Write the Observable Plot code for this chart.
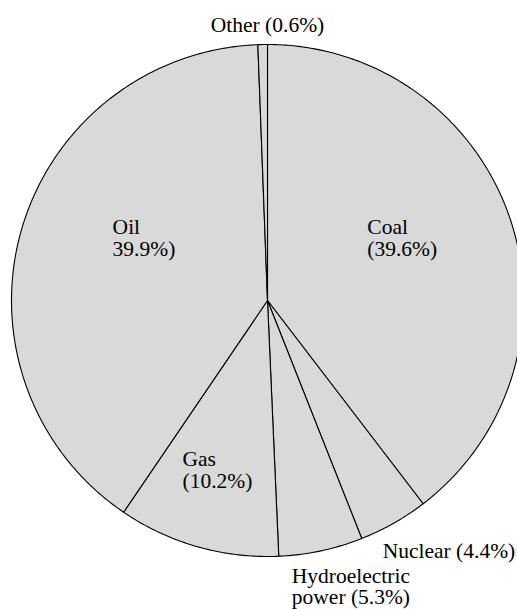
<!DOCTYPE html>
<html>
<head>
<meta charset="utf-8">
<script src="https://cdn.jsdelivr.net/npm/d3@7"></script>
<script src="https://cdn.jsdelivr.net/npm/@observablehq/plot@0.6"></script>
<style>
  html, body { margin: 0; padding: 0; background: #fff; }
</style>
</head>
<body>
<div id="chart"></div>
<script>
// Data (clockwise from 12 o'clock)
const categories = ["Coal", "Nuclear", "Hydroelectric power", "Gas", "Oil", "Other"];
const shares = [39.6, 4.4, 5.3, 10.2, 39.9, 0.6];
const labels = ["Coal\n(39.6%)", "Nuclear (4.4%)", "Hydroelectric\npower (5.3%)", "Gas\n(10.2%)", "Oil\n39.9%)", "Other (0.6%)"];

// Layout (label anchors in chart units; radius = 1)
const labelLayout = {
  "Coal": {x: 0.39, y: 0.318, anchor: "start"},
  "Nuclear": {x: 0.45, y: -0.947, anchor: "start"},
  "Hydroelectric power": {x: 0.095, y: -1.042, anchor: "start"},
  "Gas": {x: -0.332, y: -0.588, anchor: "start"},
  "Oil": {x: -0.605, y: 0.318, anchor: "start"},
  "Other": {x: 0.0, y: 1.107, anchor: "middle"}
};

const table = categories.map((c, i) => ({cat: c, share: shares[i], label: labels[i]}));
const arcs = d3.pie().sort(null).value(d => d.share)(table);

// Build slice outlines from the pie angles (angle 0 = up, clockwise)
const pts = [];
arcs.forEach(a => {
  const cat = a.data.cat;
  pts.push({cat, x: 0, y: 0});
  const n = Math.max(2, Math.ceil((a.endAngle - a.startAngle) / 0.01));
  for (let k = 0; k <= n; k++) {
    const t = a.startAngle + (a.endAngle - a.startAngle) * k / n;
    pts.push({cat, x: Math.sin(t), y: Math.cos(t)});
  }
  pts.push({cat, x: 0, y: 0});
});

const labelRows = table.map(d => ({...d, ...labelLayout[d.cat]}));

const serif = "'Liberation Serif', 'Times New Roman', Times, serif";
const fs = 21.5;
const cx = 267, cy = 300, r = 256;
const chart = Plot.plot({
  width: 517,
  height: 609,
  margin: 0,
  x: {domain: [-1, 1], range: [cx - r, cx + r], axis: null},
  y: {domain: [-1, 1], range: [cy + r, cy - r], axis: null},
  style: {fontFamily: serif, fontSize: fs + "px", background: "#fff", color: "#000"},
  marks: [
    Plot.line(pts, {x: "x", y: "y", z: "cat", fill: "#d9d9d9", stroke: "#000", strokeWidth: 1.1, curve: "linear-closed"}),
    Plot.text(labelRows.filter(d => d.anchor === "start"), {
      x: "x", y: "y", text: "label", textAnchor: "start", lineAnchor: "top",
      lineHeight: 1, fontSize: fs, fill: "#000"
    }),
    Plot.text(labelRows.filter(d => d.anchor === "middle"), {
      x: "x", y: "y", text: "label", textAnchor: "middle", lineAnchor: "top",
      lineHeight: 1, fontSize: fs, fill: "#000"
    })
  ]
});
document.getElementById("chart").appendChild(chart);
</script>
</body>
</html>
